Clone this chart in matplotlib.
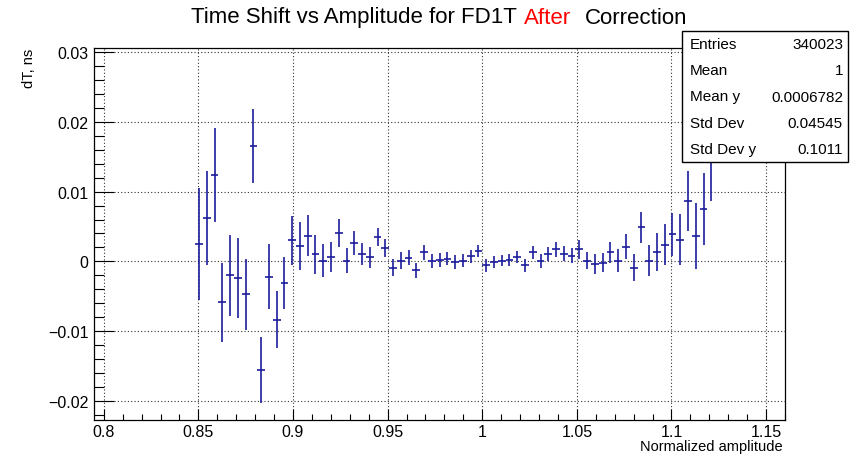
import numpy as np
import matplotlib
matplotlib.use("Agg")
import matplotlib.pyplot as plt
from matplotlib.patches import Rectangle
from matplotlib.ticker import MultipleLocator, FuncFormatter

plt.rcParams['font.family'] = ['Liberation Sans', 'DejaVu Sans']

# Profile binning: 89 bins over the amplitude range, filled bins 13..79
x_lo, x_hi, n_bins = 0.795, 1.16, 89
first_bin = 13

# Mean dT per bin and its error (ns)
dt_mean = [0.0025, 0.0062, 0.0124, -0.0059, -0.0020, -0.0024, -0.0047, 0.0165,
           -0.0156, -0.0022, -0.0084, -0.0031, 0.0030, 0.0022, 0.0037, 0.0010,
           0.0001, 0.0006, 0.0041, 0.0001, 0.0026, 0.0010, 0.0006, 0.0035,
           0.0019, -0.0009, 0.0001, 0.0005, -0.0013, 0.0013, 0.0001, 0.0002,
           0.0004, -0.0001, 0.0001, 0.0007, 0.0015, -0.0006, -0.0001, 0.0001,
           0.0002, 0.0006, -0.0006, 0.0013, 0.0000, 0.0010, 0.0017, 0.0011,
           0.0008, 0.0017, 0.0001, -0.0004, -0.0002, 0.0013, 0.0001, 0.0021,
           -0.0009, 0.0049, 0.0001, 0.0013, 0.0024, 0.0039, 0.0031, 0.0087,
           0.0036, 0.0075, 0.0150]
dt_err = [0.0080, 0.0067, 0.0067, 0.0057, 0.0058, 0.0057, 0.0051, 0.0053,
          0.0047, 0.0047, 0.0041, 0.0037, 0.0035, 0.0034, 0.0030, 0.0028,
          0.0024, 0.0022, 0.0020, 0.0018, 0.0017, 0.0016, 0.0015, 0.0013,
          0.0013, 0.0012, 0.0012, 0.0011, 0.0011, 0.0011, 0.0010, 0.0010,
          0.0010, 0.0010, 0.0009, 0.0009, 0.0009, 0.0009, 0.0008, 0.0008,
          0.0009, 0.0009, 0.0009, 0.0009, 0.0010, 0.0010, 0.0011, 0.0011,
          0.0011, 0.0013, 0.0012, 0.0014, 0.0014, 0.0015, 0.0016, 0.0018,
          0.0019, 0.0022, 0.0022, 0.0027, 0.0030, 0.0031, 0.0037, 0.0043,
          0.0047, 0.0052, 0.0063]

stat_names = ["Entries", "Mean", "Mean y", "Std Dev", "Std Dev y"]
stat_values = ["340023", "1", "0.0006782", "0.04545", "0.1011"]

edges = np.linspace(x_lo, x_hi, n_bins + 1)
centers = 0.5 * (edges[:-1] + edges[1:])
width = edges[1] - edges[0]
x = centers[first_bin:first_bin + len(dt_mean)]

W, H = 861, 456
fig = plt.figure(figsize=(W / 100, H / 100), dpi=100, facecolor='white')
ax = fig.add_axes([94.3 / W, 1 - 420.7 / H, (785 - 94.3) / W, (420.7 - 49.3) / H])

ax.errorbar(x, dt_mean, xerr=width / 2, yerr=dt_err, fmt='none',
            ecolor='#1c1c9c', elinewidth=1.2, capsize=0, zorder=3)

ax.set_xlim(x_lo, x_hi)
ax.set_ylim(-0.02273, 0.03057)

ax.xaxis.set_major_locator(MultipleLocator(0.05))
ax.xaxis.set_minor_locator(MultipleLocator(0.01))
ax.yaxis.set_major_locator(MultipleLocator(0.01))
ax.yaxis.set_minor_locator(MultipleLocator(0.002))
fmt = FuncFormatter(lambda v, p: ("%g" % round(v, 6)).replace('-', '\u2212'))
ax.xaxis.set_major_formatter(fmt)
ax.yaxis.set_major_formatter(fmt)

ax.tick_params(axis='x', which='major', direction='in', length=8, width=0.8,
               labelsize=11.5, pad=3)
ax.tick_params(axis='x', which='minor', direction='in', length=4, width=0.8)
ax.tick_params(axis='y', which='major', direction='in', length=14.5, width=0.8,
               labelsize=11.5, pad=4)
ax.tick_params(axis='y', which='minor', direction='in', length=7.2, width=0.8)
ax.tick_params(top=False, right=False, which='both')

ax.grid(True, which='major', color='#333333', linestyle=(0, (1, 2)), linewidth=0.8)
for s in ax.spines.values():
    s.set_linewidth(0.9)

# axis titles, ROOT style: aligned to the ends of the axes
fig.text(783 / W, 1 - 447 / H, "Normalized amplitude", ha='right', va='center',
         fontsize=10.5)
fig.text(29 / W, 1 - 49 / H, "dT, ns", ha='center', va='top', rotation=90,
         fontsize=10.5)

# title in three colored pieces
fig.canvas.draw()
r = fig.canvas.get_renderer()
pieces = [("Time Shift vs Amplitude for FD1T", 'black'), ("After", 'red'),
          ("Correction", 'black')]
gaps = [0, 7, 14]
ty = 1 - 18 / H
texts = []
for (s, c) in pieces:
    texts.append(fig.text(0, ty, s, color=c, fontsize=16, ha='left', va='center'))
widths = [t.get_window_extent(r).width for t in texts]
total = sum(widths) + sum(gaps)
xpos = 439 - total / 2
for t, w, g in zip(texts, widths, gaps):
    xpos += g
    t.set_x(xpos / W)
    xpos += w

# statistics box
bx0, bx1, by0, by1 = 682, 848, 32, 163
fig.add_artist(Rectangle((bx0 / W, 1 - by1 / H), (bx1 - bx0) / W, (by1 - by0) / H,
                         transform=fig.transFigure, facecolor='white',
                         edgecolor='black', linewidth=1.0, zorder=10))
row_h = (by1 - by0) / len(stat_names)
for i, (n, v) in enumerate(zip(stat_names, stat_values)):
    yy = 1 - (by0 + row_h * (i + 0.5)) / H
    fig.text(690 / W, yy, n, ha='left', va='center', fontsize=11, zorder=11)
    fig.text(843 / W, yy, v, ha='right', va='center', fontsize=11, zorder=11)

fig.savefig("out.png", dpi=100, facecolor='white')
